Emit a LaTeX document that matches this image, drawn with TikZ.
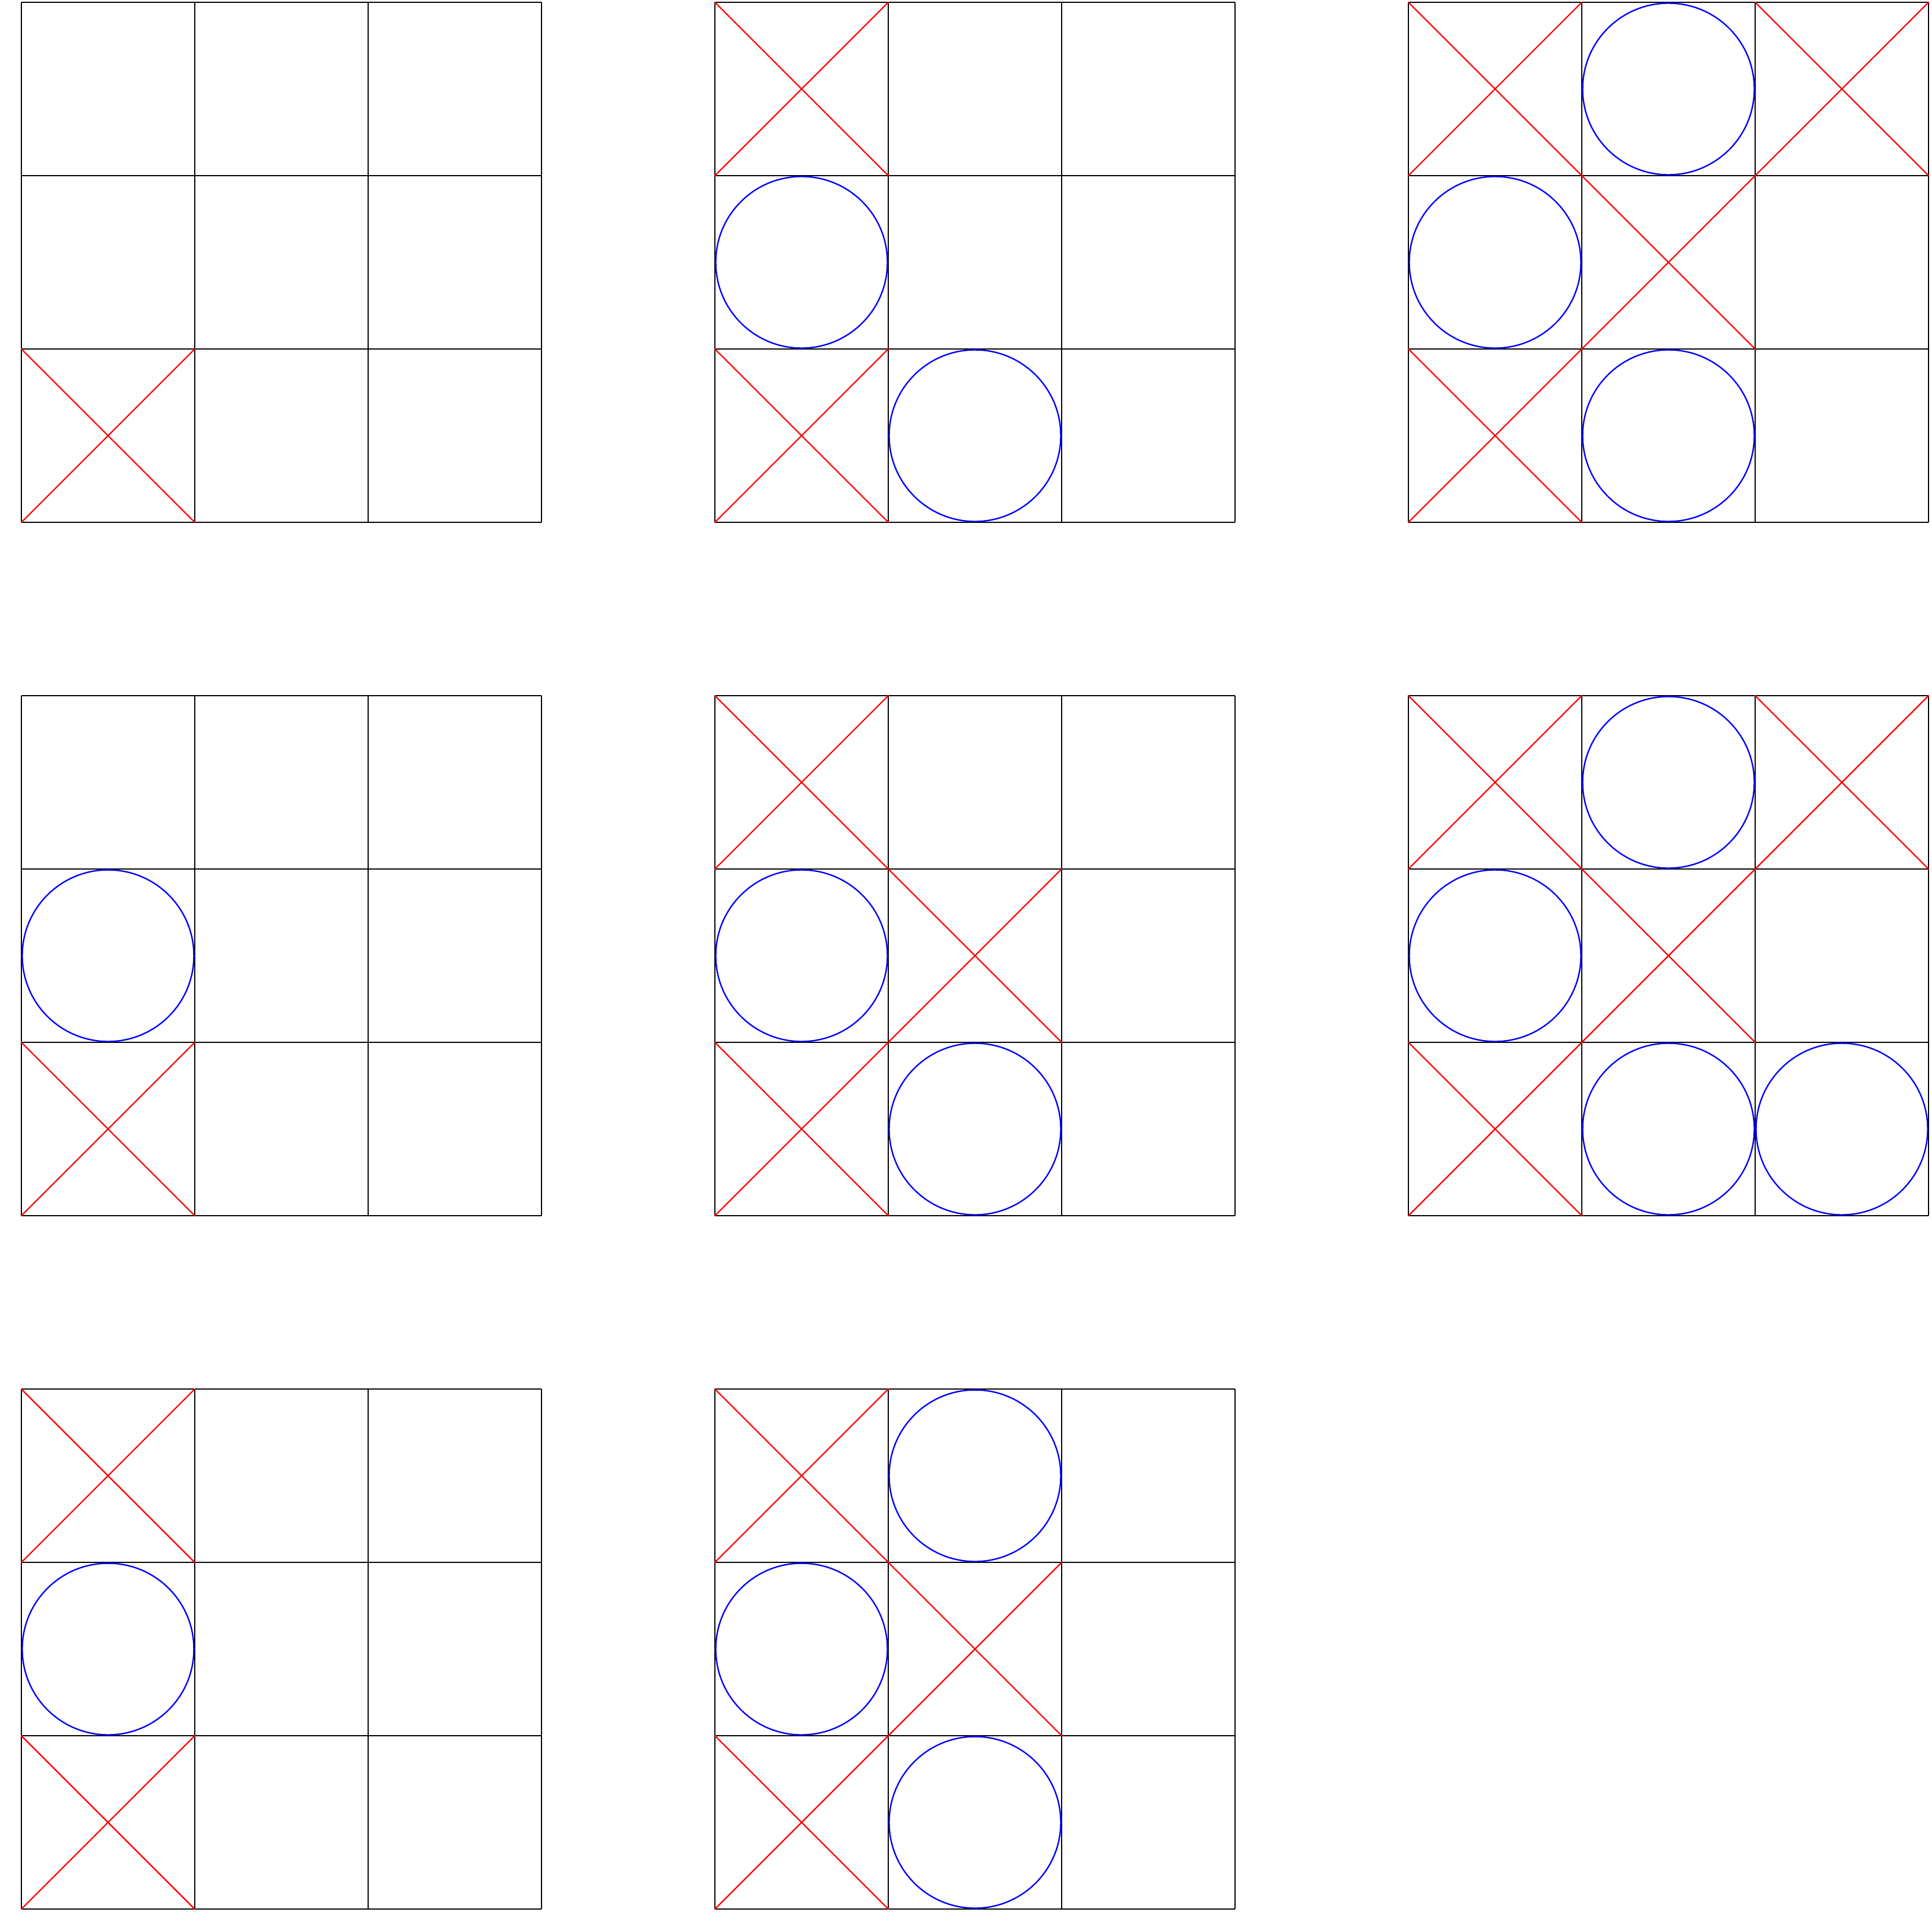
\documentclass[tikz,border=0pt]{standalone}
\tikzset{
  boardline/.style={black,line width=0.2pt},
  xline/.style={red,line width=0.23pt,line cap=round},
  oline/.style={blue,line width=0.23pt}
}
% board at column #1, row #2 of the sheet
\newcommand{\board}[2]{\draw[boardline,shift={(4*#1,-4*#2)}] (0,-3) grid (3,0);}
\newcommand{\crosses}[3]{%
  \foreach \r/\c in {#3}
    \draw[xline,shift={(4*#1,-4*#2)}] (\c,-\r) -- (\c+1,-\r-1) (\c+1,-\r) -- (\c,-\r-1);}
\newcommand{\noughts}[3]{%
  \foreach \r/\c in {#3}
    \draw[oline,shift={(4*#1,-4*#2)}] (\c+0.5,-\r-0.5) circle (0.495);}

\begin{document}
\begin{tikzpicture}
    \useasboundingbox (-0.1233,0.0133) rectangle (11.0167,-11.1267);
    % top row
    \board{0}{0} \crosses{0}{0}{2/0}
    \board{1}{0} \crosses{1}{0}{0/0,2/0} \noughts{1}{0}{1/0,2/1}
    \board{2}{0} \crosses{2}{0}{0/0,0/2,1/1,2/0} \noughts{2}{0}{0/1,1/0,2/1}
    % middle row
    \board{0}{1} \crosses{0}{1}{2/0} \noughts{0}{1}{1/0}
    \board{1}{1} \crosses{1}{1}{0/0,1/1,2/0} \noughts{1}{1}{1/0,2/1}
    \board{2}{1} \crosses{2}{1}{0/0,0/2,1/1,2/0} \noughts{2}{1}{0/1,1/0,2/1,2/2}
    % bottom row
    \board{0}{2} \crosses{0}{2}{0/0,2/0} \noughts{0}{2}{1/0}
    \board{1}{2} \crosses{1}{2}{0/0,1/1,2/0} \noughts{1}{2}{0/1,1/0,2/1}
\end{tikzpicture}
\end{document}
